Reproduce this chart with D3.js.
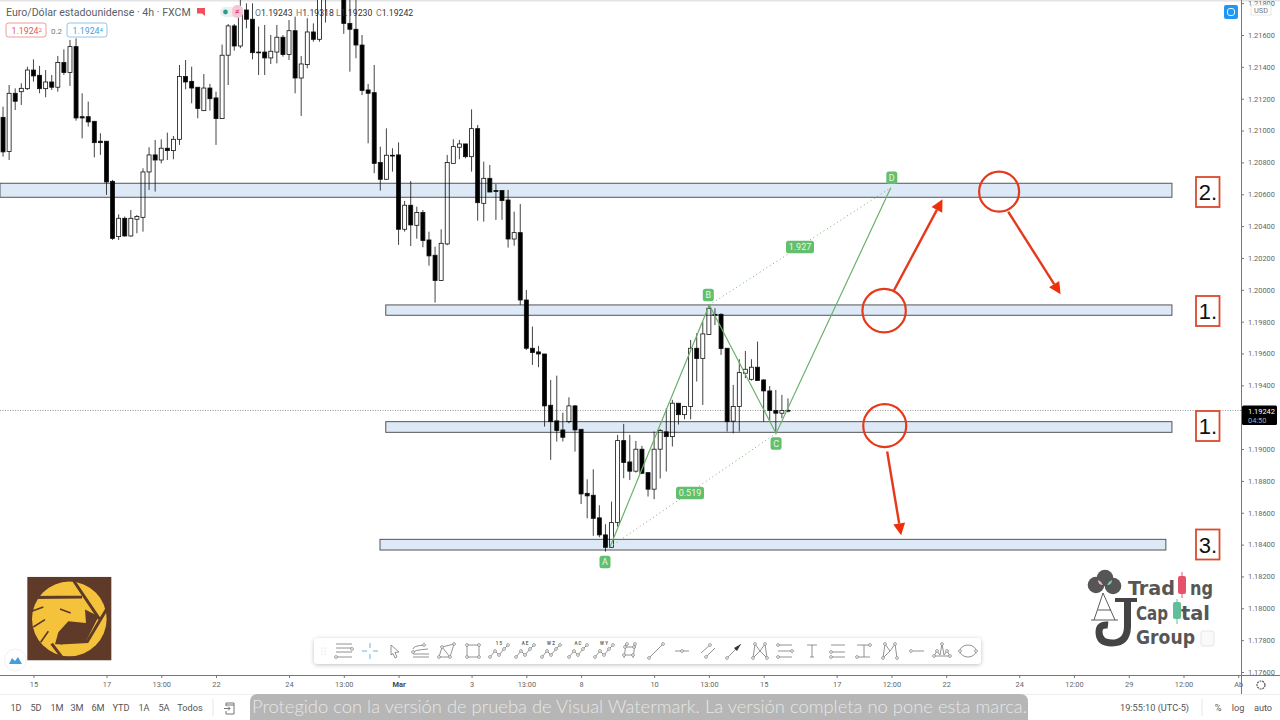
<!DOCTYPE html>
<html lang="es">
<head>
<meta charset="utf-8">
<title>Euro/Dólar 4h</title>
<script src="https://d3js.org/d3.v7.min.js"></script>
<style>
	html, body { margin: 0; padding: 0; background: #fff; overflow: hidden; }
	svg { display: block; font-family: Roboto, sans-serif; }
</style>
</head>
<body>
<script>
// candles, one value per 4h bar
var opens = [1.21083,1.20868,1.21234,1.21244,1.21263,1.21380,1.21347,1.21263,1.21305,1.21272,1.21427,1.21364,1.21527,1.21087,1.21087,1.21058,1.20933,1.20933,1.20681,1.20334,1.20449,1.20338,1.20443,1.20455,1.20740,1.20847,1.20815,1.20889,1.20874,1.20945,1.21339,1.21309,1.21272,1.21125,1.21267,1.21205,1.21075,1.21473,1.21657,1.21531,1.21757,1.21699,1.21493,1.21493,1.21456,1.21493,1.21586,1.21477,1.21627,1.21330,1.21414,1.21619,1.21573,1.21840,1.21860,1.21880,1.21850,1.21673,1.21636,1.21537,1.21255,1.21238,1.20799,1.20694,1.20845,1.20847,1.20380,1.20531,1.20405,1.20485,1.20313,1.20217,1.20058,1.20288,1.20794,1.20895,1.20916,1.20836,1.21012,1.20543,1.20700,1.20623,1.20623,1.20564,1.20319,1.20359,1.19936,1.19633,1.19610,1.19597,1.19275,1.19177,1.19120,1.19172,1.19271,1.19124,1.18722,1.18710,1.18568,1.18461,1.18383,1.18538,1.19053,1.18919,1.18861,1.18999,1.18852,1.18748,1.18999,1.19108,1.19078,1.19288,1.19216,1.19267,1.19633,1.19568,1.19719,1.19846,1.19846,1.19633,1.19175,1.19267,1.19476,1.19438,1.19514,1.19434,1.19365,1.19242,1.19225,1.19243];
var highs = [1.21150,1.21286,1.21265,1.21297,1.21401,1.21447,1.21406,1.21380,1.21349,1.21468,1.21510,1.21569,1.21579,1.21234,1.21182,1.21058,1.20983,1.20933,1.20690,1.20474,1.20460,1.20501,1.20470,1.20763,1.20895,1.20941,1.20945,1.20987,1.20966,1.21412,1.21443,1.21401,1.21272,1.21355,1.21293,1.21244,1.21540,1.21669,1.21669,1.21820,1.21799,1.21799,1.21653,1.21663,1.21600,1.21663,1.21600,1.21694,1.21715,1.21468,1.21705,1.21673,1.21880,1.21890,1.21900,1.21900,1.21870,1.21820,1.21820,1.21600,1.21293,1.21412,1.20899,1.21014,1.20889,1.20926,1.20558,1.20683,1.20522,1.20501,1.20365,1.20271,1.20380,1.20847,1.20945,1.20941,1.20916,1.21133,1.21035,1.20805,1.20784,1.20665,1.20623,1.20627,1.20491,1.20539,1.19999,1.19769,1.19648,1.19597,1.19434,1.19461,1.19229,1.19325,1.19277,1.19124,1.18810,1.18873,1.18647,1.18528,1.18670,1.19089,1.19158,1.19089,1.19051,1.19020,1.18852,1.19110,1.19126,1.19256,1.19309,1.19288,1.19271,1.19685,1.19727,1.19800,1.19905,1.19884,1.19853,1.19633,1.19403,1.19564,1.19616,1.19564,1.19675,1.19438,1.19396,1.19371,1.19340,1.19318];
var lows = [1.20836,1.20815,1.21129,1.21161,1.21255,1.21307,1.21234,1.21209,1.21255,1.21244,1.21349,1.21280,1.21062,1.20951,1.21025,1.20832,1.20847,1.20596,1.20313,1.20313,1.20334,1.20334,1.20355,1.20365,1.20627,1.20617,1.20794,1.20815,1.20820,1.20910,1.21259,1.21171,1.21077,1.21125,1.21125,1.20910,1.21075,1.21286,1.21502,1.21517,1.21642,1.21447,1.21349,1.21349,1.21418,1.21422,1.21464,1.21443,1.21234,1.21092,1.21391,1.21558,1.21558,1.21678,1.21840,1.21840,1.21607,1.21370,1.21454,1.21223,1.20920,1.20732,1.20623,1.20690,1.20742,1.20282,1.20365,1.20275,1.20321,1.20267,1.20152,1.19920,1.20058,1.20280,1.20794,1.20820,1.20826,1.20742,1.20434,1.20428,1.20614,1.20439,1.20439,1.20265,1.20277,1.19905,1.19622,1.19528,1.19514,1.19141,1.18932,1.19047,1.19047,1.19162,1.18984,1.18655,1.18565,1.18455,1.18446,1.18356,1.18383,1.18513,1.18817,1.18806,1.18852,1.18844,1.18702,1.18685,1.18815,1.18859,1.19016,1.19154,1.19187,1.19187,1.19424,1.19277,1.19719,1.19779,1.19591,1.19110,1.19099,1.19110,1.19445,1.19430,1.19430,1.19172,1.19172,1.19110,1.19193,1.19230];
var closes = [1.20866,1.21234,1.21184,1.21265,1.21380,1.21343,1.21263,1.21305,1.21272,1.21427,1.21364,1.21527,1.21079,1.21079,1.21054,1.20924,1.20924,1.20677,1.20323,1.20449,1.20338,1.20449,1.20460,1.20740,1.20847,1.20815,1.20889,1.20874,1.20945,1.21339,1.21305,1.21267,1.21138,1.21267,1.21200,1.21075,1.21473,1.21657,1.21531,1.21757,1.21699,1.21489,1.21489,1.21456,1.21498,1.21586,1.21477,1.21627,1.21330,1.21418,1.21619,1.21573,1.21840,1.21860,1.21880,1.21850,1.21673,1.21636,1.21537,1.21251,1.21234,1.20794,1.20694,1.20845,1.20840,1.20380,1.20531,1.20407,1.20485,1.20309,1.20213,1.20058,1.20292,1.20799,1.20899,1.20916,1.20836,1.21012,1.20547,1.20700,1.20614,1.20617,1.20560,1.20319,1.20359,1.19936,1.19633,1.19606,1.19597,1.19271,1.19172,1.19116,1.19074,1.19271,1.19120,1.18718,1.18706,1.18565,1.18461,1.18383,1.18538,1.19053,1.18915,1.18861,1.18999,1.18848,1.18748,1.18999,1.19116,1.19078,1.19288,1.19216,1.19267,1.19633,1.19568,1.19723,1.19884,1.19840,1.19631,1.19172,1.19267,1.19480,1.19501,1.19514,1.19430,1.19365,1.19242,1.19225,1.19242,1.19242];

// 1.19200 sits under the black last price label, so it has no tick
var priceTicks = [1.218,1.216,1.214,1.212,1.21,1.208,1.206,1.204,1.202,1.2,1.198,1.196,1.194,1.19,1.188,1.186,1.184,1.182,1.18,1.178,1.176];
var timeTicks = [5,17,26,35,47,56,65,77,86,95,107,116,125,137,146,155,167,176,185,194,203];
var timeLabels = ["15","17","13:00","22","24","13:00","Mar","3","13:00","8","10","13:00","15","17","12:00","22","24","12:00","29","12:00","Ab"];
var lastPrice = 1.19242;

// the blue support / resistance zones: first bar, last bar, top price, bottom price
var zoneStart = [-0.5, 62.9, 62.9, 61.95];
var zoneEnd = [192.1, 192.1, 192.1, 191.1];
var zoneTop = [1.20669, 1.19905, 1.19172, 1.18433];
var zoneBottom = [1.20581, 1.19840, 1.19105, 1.18366];

// ABCD harmonic pattern
var abcdNames = ["A","B","C","D"];
var abcdBars = [99.75, 116.07, 127.04, 145.9];
var abcdPrices = [1.18385, 1.19905, 1.19098, 1.20641];
var ratioLabels = ["0.519","1.927"];

// red circles and arrows
var circleBars = [144.8, 163.7, 144.9];
var circlePrices = [1.19869, 1.20616, 1.19147];
var circleRadius = [21.7, 20, 21.5];
var arrowFromBars = [146.3, 165.2, 145.3];
var arrowFromPrices = [1.19988, 1.20490, 1.18985];
var arrowToBars = [154.4, 173.8, 147.6];
var arrowToPrices = [1.20568, 1.19972, 1.18458];

var rangeButtons = ["1D","5D","1M","3M","6M","YTD","1A","5A","Todos"];
var rangeButtonX = [16,36,57,77,98,121,144,164,190];

var width = 1280, height = 720;
var svg = d3.select("body").append("svg").attr("width", width).attr("height", height);

var x = d3.scaleLinear().domain([-0.5, 203.5]).range([0, 1241.3]);
var y = d3.scaleLinear().domain([1.216, 1.176]).range([35, 672]);

var bars = d3.range(opens.length);

svg.append("rect").attr("width", width).attr("height", 1.5).attr("fill", "#e4e4e4");

svg.append("clipPath").attr("id", "plot").append("rect").attr("width", 1241).attr("height", 675);
var plot = svg.append("g").attr("clip-path", "url(#plot)");

// last price line
plot.append("line")
	.attr("x1", 0).attr("x2", 1241)
	.attr("y1", y(lastPrice)).attr("y2", y(lastPrice))
	.attr("stroke", "#999").attr("stroke-width", 1).attr("stroke-dasharray", "1 1.5");

// wicks then bodies
plot.selectAll(".wick").data(bars).enter().append("line")
	.attr("class", "wick")
	.attr("x1", function(i) { return x(i); })
	.attr("x2", function(i) { return x(i); })
	.attr("y1", function(i) { return y(highs[i]); })
	.attr("y2", function(i) { return y(lows[i]); })
	.attr("stroke", "#444").attr("stroke-width", 1);

plot.selectAll(".body").data(bars).enter().append("rect")
	.attr("class", "body")
	.attr("x", function(i) { return x(i) - 2; })
	.attr("width", 4)
	.attr("y", function(i) { return y(Math.max(opens[i], closes[i])); })
	.attr("height", function(i) { return Math.max(0.8, Math.abs(y(opens[i]) - y(closes[i]))); })
	.attr("fill", function(i) { return closes[i] >= opens[i] ? "#fff" : "#000"; })
	.attr("stroke", "#111").attr("stroke-width", 0.8);

// zones, multiplied so the candles stay dark behind them
var zones = plot.selectAll(".zone").data(zoneTop).enter().append("g").attr("class", "zone");
zones.append("rect")
	.attr("x", function(d, i) { return x(zoneStart[i]); })
	.attr("width", function(d, i) { return x(zoneEnd[i]) - x(zoneStart[i]); })
	.attr("y", function(d) { return y(d); })
	.attr("height", function(d, i) { return y(zoneBottom[i]) - y(d); })
	.attr("fill", "#dde9f6")
	.style("mix-blend-mode", "multiply")
	.attr("stroke", "#555").attr("stroke-width", 1);

// pattern lines
var green = "#6cb06c", badge = "#62bf6b";
var abcdPoint = function(i) { return [x(abcdBars[i]), y(abcdPrices[i])]; };
plot.append("path")
	.attr("d", d3.line()([0,1,2,3].map(abcdPoint)))
	.attr("fill", "none").attr("stroke", green).attr("stroke-width", 1.2);
[[0,2],[1,3]].forEach(function(p) {
	plot.append("path")
		.attr("d", d3.line()(p.map(abcdPoint)))
		.attr("fill", "none").attr("stroke", green).attr("stroke-width", 1).attr("stroke-dasharray", "1 3");
});

var drawBadge = function(cx, cy, txt, w) {
	svg.append("rect").attr("x", cx - w / 2).attr("y", cy - 6.2).attr("width", w).attr("height", 12.4).attr("rx", 2.5).attr("fill", badge);
	svg.append("text").attr("x", cx).attr("y", cy + 3.2).attr("text-anchor", "middle")
		.attr("font-size", 9).attr("fill", "#e9f7ea").text(txt);
};
var badgeOffset = [[-5, 15], [-1, -10], [0, 10], [1, -10]];
abcdNames.forEach(function(n, i) {
	var p = abcdPoint(i);
	drawBadge(p[0] + badgeOffset[i][0], p[1] + badgeOffset[i][1], n, 11);
});
// ratio badges
var ratioSpots = [[690, 493], [800, 247]];
ratioLabels.forEach(function(r, i) { drawBadge(ratioSpots[i][0], ratioSpots[i][1], r, 28); });

// red circles and arrows
var red = "#e5391c";
circlePrices.forEach(function(p, i) {
	svg.append("circle").attr("cx", x(circleBars[i])).attr("cy", y(p)).attr("r", circleRadius[i])
		.attr("fill", "none").attr("stroke", red).attr("stroke-width", 2.2);
});
arrowFromBars.forEach(function(b, i) {
	var x1 = x(b), y1 = y(arrowFromPrices[i]), x2 = x(arrowToBars[i]), y2 = y(arrowToPrices[i]);
	var a = Math.atan2(y2 - y1, x2 - x1), L = 12, W = 6;
	var bx = x2 - L * Math.cos(a), by = y2 - L * Math.sin(a);
	svg.append("line").attr("x1", x1).attr("y1", y1).attr("x2", bx).attr("y2", by)
		.attr("stroke", red).attr("stroke-width", 2.4);
	svg.append("path").attr("fill", "#ee2f0a").attr("d", d3.line()([
		[x2, y2],
		[bx - W * Math.sin(a), by + W * Math.cos(a)],
		[bx + W * Math.sin(a), by - W * Math.cos(a)]
	]) + "Z");
});

// numbered boxes next to the zones
var numberBoxes = [["2.", 177], ["1.", 296], ["1.", 411], ["3.", 529.5]];
numberBoxes.forEach(function(b) {
	svg.append("rect").attr("x", 1196).attr("y", b[1]).attr("width", 23.5).attr("height", 30)
		.attr("fill", "#fff").attr("stroke", "#dc4a2c").attr("stroke-width", 1.8);
	svg.append("text").attr("x", 1208).attr("y", b[1] + 23).attr("text-anchor", "middle")
		.attr("font-family", "Liberation Sans").attr("font-size", 22).attr("fill", "#111").text(b[0]);
});

// axes
var axisColor = "#777";
var yAxis = svg.append("g").attr("transform", "translate(1241,0)")
	.call(d3.axisRight(y).tickValues(priceTicks).tickFormat(d3.format(".5f")).tickSize(3).tickPadding(4));
var xAxis = svg.append("g").attr("transform", "translate(0,675)")
	.call(d3.axisBottom(x).tickValues(timeTicks).tickFormat(function(d, i) { return timeLabels[i]; }).tickSize(3).tickPadding(4));
[yAxis, xAxis].forEach(function(a) {
	a.attr("font-family", "Roboto").attr("font-size", 7.4);
	a.select(".domain").remove();
	a.selectAll(".tick line").attr("stroke", axisColor);
	a.selectAll(".tick text").attr("fill", "#666");
});
xAxis.selectAll(".tick text").filter(function(d) { return d === 65; }).attr("font-weight", "bold").attr("fill", "#444");
svg.append("line").attr("x1", 0).attr("x2", width).attr("y1", 675.5).attr("y2", 675.5).attr("stroke", axisColor);
svg.append("line").attr("x1", 1241.5).attr("x2", 1241.5).attr("y1", 0).attr("y2", 694).attr("stroke", axisColor);

// price label on the scale
svg.append("rect").attr("x", 1242).attr("y", 405.5).attr("width", 35).attr("height", 19.5).attr("rx", 1.5).attr("fill", "#000");
svg.append("text").attr("x", 1248).attr("y", 413.5).attr("font-size", 7.4).attr("fill", "#fff").text(d3.format(".5f")(lastPrice));
svg.append("text").attr("x", 1248).attr("y", 422.5).attr("font-size", 7.4).attr("fill", "#aaa").text("04:50");

// USD tag + blue button
svg.append("rect").attr("x", 1251).attr("y", 5).attr("width", 20).attr("height", 10).attr("fill", "#fff").attr("stroke", "#e6e6e6");
svg.append("text").attr("x", 1261).attr("y", 13).attr("text-anchor", "middle").attr("font-size", 7.4).attr("fill", "#777").text("USD");
svg.append("rect").attr("x", 1224).attr("y", 5).attr("width", 14).attr("height", 14).attr("rx", 2).attr("fill", "#2196f3");
svg.append("rect").attr("x", 1227.5).attr("y", 8.5).attr("width", 7).attr("height", 7).attr("rx", 2.5).attr("fill", "none").attr("stroke", "#dff").attr("stroke-width", 1);

// header
var header = svg.append("g");
header.append("text").attr("x", 6).attr("y", 15.5).attr("font-size", 10.6).attr("fill", "#5a5f68").text("Euro/Dólar estadounidense · 4h · FXCM");
header.append("path").attr("d", "M197 8h8v8l-3-2.5h-5z").attr("fill", "#f1505a");
header.append("rect").attr("x", 220).attr("y", 7).attr("width", 22).attr("height", 10).attr("rx", 5).attr("fill", "#e9f1f0");
header.append("rect").attr("x", 232).attr("y", 5).attr("width", 11).attr("height", 13).attr("rx", 5).attr("fill", "#f7c6d5");
header.append("circle").attr("cx", 225.5).attr("cy", 12).attr("r", 2.4).attr("fill", "#26a08a");
header.append("text").attr("x", 237).attr("y", 15).attr("text-anchor", "middle").attr("font-size", 9).attr("fill", "#d63864").text("≠");
var ohlcLabels = [["O", opens[129], 255], ["H", highs[129], 296], ["L", lows[129], 336], ["C", closes[129], 376]];
ohlcLabels.forEach(function(o) {
	var t = header.append("text").attr("x", o[2]).attr("y", 15.5).attr("font-size", 8.7);
	t.append("tspan").attr("fill", "#777").text(o[0]);
	t.append("tspan").attr("fill", "#333").text(d3.format(".5f")(o[1]));
});

var priceBox = function(bx, color, txt, sup) {
	svg.append("rect").attr("x", bx).attr("y", 23).attr("width", 40).attr("height", 14).attr("rx", 2.5)
		.attr("fill", "#fff").attr("stroke", color).attr("stroke-opacity", 0.6);
	var t = svg.append("text").attr("x", bx + 5.5).attr("y", 33.5).attr("font-size", 8.8).attr("fill", color);
	t.append("tspan").text(txt);
	t.append("tspan").attr("font-size", 6).attr("dy", -2).text(sup);
};
priceBox(6, "#e15a5a", "1.1924", "2");
priceBox(67, "#4a9fd8", "1.1924", "4");
svg.append("text").attr("x", 51).attr("y", 33.5).attr("font-size", 8).attr("fill", "#777").text("0.2");

// eagle logo, scaled from a 3x drawing
var eagle = svg.append("g").attr("transform", "scale(0.3333)");
var brown = "#5f3a28", gold = "#f4c33b";
eagle.append("rect").attr("x", 82).attr("y", 1731).attr("width", 252).attr("height", 250).attr("fill", brown);
var eagleInner = eagle.append("g").attr("transform", "translate(0,1709)");
eagleInner.append("circle").attr("cx", 208).attr("cy", 148).attr("r", 112).attr("fill", gold);
eagleInner.append("path").attr("fill", brown).attr("d", "M255 120L296 140L258 215L185 224L165 224L175 188L205 155L258 160Z");
eagleInner.append("path").attr("fill", "none").attr("stroke", brown).attr("stroke-width", 9)
	.attr("d", "M100 84L246 82M222 35L298 148M322 115L262 216L180 220M155 222L185 262");
eagleInner.append("path").attr("fill", "none").attr("stroke", brown).attr("stroke-width", 5)
	.attr("d", "M180 118L212 130M95 125L130 112M100 172L135 150M122 218L145 185");

// bubble button bottom left
svg.append("circle").attr("cx", 15.5).attr("cy", 660).attr("r", 11).attr("fill", "#fff").attr("stroke", "#eef2f5");
svg.append("path").attr("d", "M9 664l3-6 3 3 3-4 4 7z").attr("fill", "#3fa0e0");

// group logo, bottom right
var grey = "#565656";
[[1105, 578, 8.3], [1096, 585, 8.3], [1113, 586, 8.3]].forEach(function(c) {
	svg.append("circle").attr("cx", c[0]).attr("cy", c[1]).attr("r", c[2]).attr("fill", grey);
});
svg.append("path").attr("d", "M1098 580q3 1 5 5q-5 0-5-5z").attr("fill", "#f0b8c4");
svg.append("path").attr("d", "M1112 580q-3 1-5 5q5 0 5-5z").attr("fill", "#7ccdb2");
svg.append("path").attr("d", "M1103 593L1094 620M1103 593L1115 620M1098 610L1111 610M1091 620L1118 620")
	.attr("fill", "none").attr("stroke", "#333").attr("stroke-width", 0.8);
svg.append("path").attr("d", "M1115 600L1137 600").attr("stroke", "#444").attr("stroke-width", 4);
svg.append("path").attr("d", "M1127.5 600L1127.5 627Q1127 643 1112 643Q1099 643 1099 632Q1099 624 1108 625")
	.attr("fill", "none").attr("stroke", "#444").attr("stroke-width", 7);
var logoWords = [["Trad", 1128, 595, 47], ["ng", 1190, 595, 23], ["Cap", 1136, 620, 32], ["tal", 1181, 620, 29], ["Group", 1136, 644, 59]];
logoWords.forEach(function(w) {
	svg.append("text").attr("x", w[1]).attr("y", w[2]).attr("font-family", "DejaVu Sans Condensed, Liberation Sans Narrow")
		.attr("font-weight", "bold").attr("font-size", 19.5).attr("fill", grey)
		.attr("textLength", w[3]).attr("lengthAdjust", "spacingAndGlyphs").text(w[0]);
});
svg.append("rect").attr("x", 1178).attr("y", 576).attr("width", 8).attr("height", 18).attr("rx", 2).attr("fill", "#e5536a");
svg.append("line").attr("x1", 1182).attr("x2", 1182).attr("y1", 572).attr("y2", 598).attr("stroke", "#e5536a");
svg.append("rect").attr("x", 1173).attr("y", 602).attr("width", 8).attr("height", 17).attr("rx", 2).attr("fill", "#5fbf9a");
svg.append("line").attr("x1", 1177).attr("x2", 1177).attr("y1", 599).attr("y2", 624).attr("stroke", "#5fbf9a");
svg.append("rect").attr("x", 1201).attr("y", 631).attr("width", 13).attr("height", 15).attr("rx", 2).attr("fill", "#fafafa").attr("stroke", "#e5e5e5");

// drawing toolbar
var defs = svg.append("defs");
var shadow = defs.append("filter").attr("id", "shadow").attr("x", "-5%").attr("y", "-30%").attr("width", "110%").attr("height", "170%");
shadow.append("feDropShadow").attr("dx", 0).attr("dy", 1).attr("stdDeviation", 2).attr("flood-color", "#000").attr("flood-opacity", 0.25);
svg.append("rect").attr("x", 314).attr("y", 638).attr("width", 667).attr("height", 26).attr("rx", 4).attr("fill", "#fff").attr("filter", "url(#shadow)");
[[322, 648], [325, 648], [322, 651], [325, 651], [322, 654], [325, 654]].forEach(function(d) {
	svg.append("circle").attr("cx", d[0]).attr("cy", d[1]).attr("r", 0.6).attr("fill", "#ccc");
});
var wave = "M-9 6L-4 0L0 4L5 -2L9 -6";
var wavePts = [[-9,6],[-4,0],[0,4],[5,-2],[9,-6]];
var toolIcons = [
	{ x: 344, d: "M-8 -7H8M-8 -3H8M-8 1H8M-8 6H8", pts: [[8,-2],[-8,6]] },
	{ x: 370, d: "M-8 0H-3M3 0H8M0 -8V-3M0 3V8", color: "#4a9dd0" },
	{ x: 395, d: "M-4 -6L4 1L0 1.5L2 6L0 7L-2 2.5L-4 4Z" },
	{ x: 421, d: "M-8 -2Q-8 -5 3 -6M-8 2Q-8 -1 7 -2M-8 3H8M-8 6H8", pts: [[3,-6],[-8,1]] },
	{ x: 447, d: "M-8 6L-5 -4L7 -7L3 6ZM-5 -4L3 6", pts: [[-8,6],[-5,-4],[7,-7],[3,6]] },
	{ x: 473, d: "M-6 -6H6V6H-6Z", pts: [[-6,-6],[6,-6],[6,6],[-6,6]] },
	{ x: 499, d: wave, pts: wavePts, t: "1 5" },
	{ x: 525, d: wave, pts: wavePts, t: "A E" },
	{ x: 551, d: wave, pts: wavePts, t: "W Z" },
	{ x: 578, d: wave, pts: wavePts, t: "A C" },
	{ x: 604, d: wave, pts: wavePts, t: "W Y" },
	{ x: 630, d: "M-6 -4H6M-4 -7L-6 7M5 -7L3 7M-6 4H3", pts: [[-5,-4],[4,-4],[-6,4],[3,4],[5,-7],[-3,-7]] },
	{ x: 656, d: "M-7 7L7 -7", pts: [[-7,7],[7,-7]] },
	{ x: 682, d: "M-7 0H7", pts: [[0,0]] },
	{ x: 708, d: "M-7 2L3 -7M-3 7L7 -3", pts: [[2,-6],[-2,6]] },
	{ x: 734, d: "M-7 7L7 -7", pts: [[-7,7]], arrow: true },
	{ x: 760, d: "M-7 7L-5 -7L0 0L5 -7L7 7M-7 7L0 0L7 7", pts: [[-5,-7],[5,-7],[-7,7],[7,7]] },
	{ x: 785, d: "M-7 -6H7M-7 0H7M-7 6H7", pts: [[-7,-6],[7,0],[-7,6]] },
	{ x: 812, d: "M-5 -6H5M0 -6V6M-2 6H2" },
	{ x: 838, d: "M-7 -6H7M-7 1H7M-7 6H7", pts: [[-7,1],[-7,6]] },
	{ x: 864, d: "M-7 -6H6M0 -6V6M-7 6H6", pts: [[6,-6],[-7,6]] },
	{ x: 890, d: "M-7 7L-5 -7L0 0L5 -7L7 7M-7 7L0 0", pts: [[-5,-7],[5,-7],[-7,7],[7,7]] },
	{ x: 916, d: "M-3 0H8", pts: [[-5,0]] },
	{ x: 942, d: "M-8 5L-5 0L-2 4L0 -7L2 4L5 0L8 5M-8 5H8", pts: [[-8,5],[-5,0],[0,-7],[5,0],[8,5]] },
	{ x: 968, d: "M-8 0A8 6 0 1 1 8 0A8 6 0 1 1 -8 0", pts: [[-8,0],[8,0]] }
];
toolIcons.forEach(function(ic) {
	var g = svg.append("g").attr("transform", "translate(" + ic.x + ",651)");
	var col = ic.color || "#777";
	g.append("path").attr("d", ic.d).attr("fill", "none").attr("stroke", col).attr("stroke-width", 0.8);
	(ic.pts || []).forEach(function(p) {
		g.append("circle").attr("cx", p[0]).attr("cy", p[1]).attr("r", 1.4).attr("fill", "#fff").attr("stroke", col).attr("stroke-width", 0.7);
	});
	if (ic.arrow) g.append("path").attr("d", "M7 -7L0 -3L3 0Z").attr("fill", "#333");
	if (ic.t) g.append("text").attr("y", -6.5).attr("text-anchor", "middle").attr("font-size", 4.5).attr("font-weight", "bold").attr("fill", "#666").text(ic.t);
});

// bottom bar
svg.append("line").attr("x1", 0).attr("x2", width).attr("y1", 694.5).attr("y2", 694.5).attr("stroke", "#eee");
rangeButtons.forEach(function(b, i) {
	svg.append("text").attr("x", rangeButtonX[i]).attr("y", 711).attr("text-anchor", "middle").attr("font-size", 9.2).attr("fill", "#555").text(b);
});
svg.append("line").attr("x1", 213).attr("x2", 213).attr("y1", 699).attr("y2", 716).attr("stroke", "#e6e6e6");
svg.append("path").attr("d", "M226 706V703H234V714H226V711M224 708.5H230M228 706.5L230 708.5L228 710.5M226 705H234").attr("fill", "none").attr("stroke", "#666").attr("stroke-width", 0.9);
svg.append("path").attr("d", "M250 720V702Q250 694 258 694H1020Q1028 694 1028 702V720Z").attr("fill", "#b6b6b6");
svg.append("text").attr("x", 252).attr("y", 713).attr("font-family", "Lato").attr("font-size", 18.4).attr("font-weight", 300).attr("fill", "#e6e6e6")
	.text("Protegido con la versión de prueba de Visual Watermark. La versión completa no pone esta marca.");
svg.append("text").attr("x", 1120).attr("y", 711).attr("font-size", 9.2).attr("fill", "#555").text("19:55:10 (UTC-5)");
svg.append("line").attr("x1", 1202).attr("x2", 1202).attr("y1", 699).attr("y2", 716).attr("stroke", "#e6e6e6");
[["%", 1218], ["log", 1238], ["auto", 1263]].forEach(function(b) {
	svg.append("text").attr("x", b[1]).attr("y", 711).attr("text-anchor", "middle").attr("font-size", 9.2).attr("fill", "#555").text(b[0]);
});
svg.append("circle").attr("cx", 1261).attr("cy", 685).attr("r", 4).attr("fill", "none").attr("stroke", "#555").attr("stroke-width", 1.2).attr("stroke-dasharray", "2 0.8");
</script>
</body>
</html>
